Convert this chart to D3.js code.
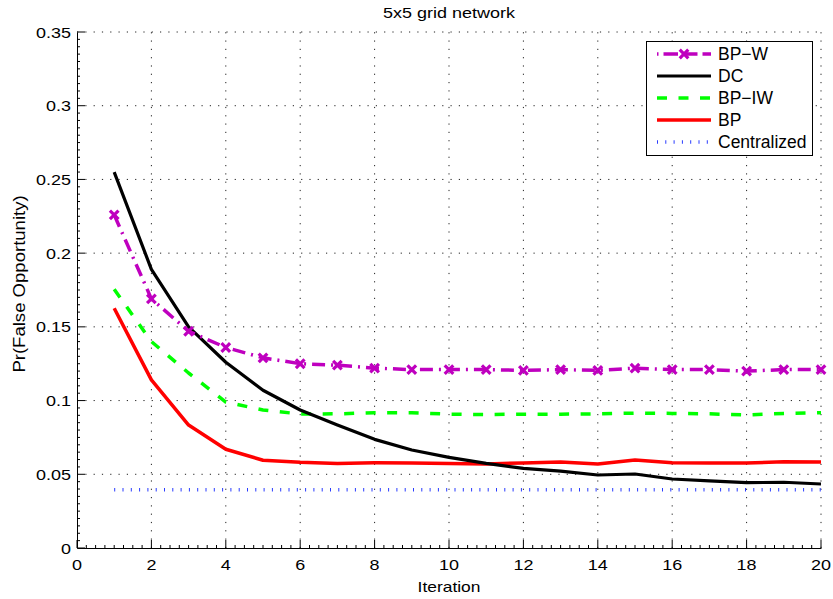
<!DOCTYPE html>
<html>
<head>
<meta charset="utf-8">
<script src="https://cdn.jsdelivr.net/npm/d3@7"></script>
<style>
  html, body { margin: 0; padding: 0; background: #fff; }
  svg { display: block; }
  text { font-family: "Liberation Sans", Arial, Helvetica, sans-serif; fill: #000; }
</style>
</head>
<body>
<svg id="chart" width="833" height="599"></svg>
<script>
// Probability of false opportunity per iteration, 5x5 grid network
const iterations = [1, 2, 3, 4, 5, 6, 7, 8, 9, 10, 11, 12, 13, 14, 15, 16, 17, 18, 19, 20];
const bpW  = [0.226, 0.169, 0.147, 0.136, 0.129, 0.125, 0.124, 0.122, 0.121, 0.121,
              0.121, 0.1205, 0.121, 0.1205, 0.122, 0.121, 0.121, 0.120, 0.121, 0.121];
const dc   = [0.255, 0.189, 0.150, 0.126, 0.107, 0.0936, 0.0834, 0.0737, 0.0665, 0.0615,
              0.0574, 0.054, 0.0522, 0.0495, 0.0502, 0.0468, 0.0455, 0.0443, 0.0446, 0.0434];
const bpIW = [0.1755, 0.140, 0.1187, 0.099, 0.0936, 0.0909, 0.091, 0.0918, 0.0918, 0.0908,
              0.0905, 0.0908, 0.0908, 0.091, 0.0915, 0.0913, 0.091, 0.0902, 0.0913, 0.0918];
const bp   = [0.1626, 0.114, 0.0834, 0.067, 0.0595, 0.0581, 0.0574, 0.0578, 0.0577, 0.0574,
              0.057, 0.0577, 0.0583, 0.057, 0.0597, 0.0579, 0.0577, 0.0577, 0.0585, 0.0583];
const centralized = [0.0395, 0.0395, 0.0395, 0.0395, 0.0395, 0.0395, 0.0395, 0.0395, 0.0395, 0.0395,
                     0.0395, 0.0395, 0.0395, 0.0395, 0.0395, 0.0395, 0.0395, 0.0395, 0.0395, 0.0395];

const xTicks = [0, 2, 4, 6, 8, 10, 12, 14, 16, 18, 20];
const yTicks = [0, 0.05, 0.1, 0.15, 0.2, 0.25, 0.3, 0.35];
const yTickLabels = ["0", "0.05", "0.1", "0.15", "0.2", "0.25", "0.3", "0.35"];

const titleText = "5x5 grid network";
const xLabel = "Iteration";
const yLabel = "Pr(False Opportunity)";

const seriesNames = ["BP\u2212W", "DC", "BP\u2212IW", "BP", "Centralized"];
const seriesValues = [bpW, dc, bpIW, bp, centralized];

const styles = [
  { color: "#bf00bf", width: 3.5, dash: "13,6,2,6", marker: true },
  { color: "#000000", width: 3.2, dash: null, marker: false },
  { color: "#00ff00", width: 3.5, dash: "10,11.5", marker: false },
  { color: "#ff0000", width: 3.5, dash: null, marker: false },
  { color: "#2a3cff", width: 3.5, dash: "1,7.3", marker: false }
];

const svg = d3.select("#chart");
const margin = { left: 77, right: 12, top: 32, bottom: 51 };
const W = 833, H = 599;
const x = d3.scaleLinear().domain([0, 20]).range([margin.left, W - margin.right]);
const y = d3.scaleLinear().domain([0, 0.35]).range([H - margin.bottom, margin.top]);

const sx = 1.16; // horizontal stretch for axis fonts
function label(g, px, py, txt, size, anchor, rot) {
  const t = g.append("text")
    .attr("transform", `translate(${px},${py})` + (rot ? ` rotate(${rot})` : "") + ` scale(${sx},1)`)
    .attr("font-size", size)
    .attr("text-anchor", anchor)
    .text(txt);
  return t;
}

// grid
const grid = svg.append("g").attr("stroke", "#222").attr("stroke-width", 1)
  .attr("stroke-dasharray", "1.2,7.1").attr("fill", "none");
xTicks.filter(v => v > 0).forEach(v => {
  grid.append("line").attr("x1", x(v)).attr("x2", x(v)).attr("y1", y(0)).attr("y2", y(0.35));
});
yTicks.filter(v => v > 0).forEach(v => {
  grid.append("line").attr("x1", x(0)).attr("x2", x(20)).attr("y1", y(v)).attr("y2", y(v));
});

// axes
const xAxis = d3.axisBottom(x).tickValues(xTicks).tickSize(0).tickPadding(0).tickFormat("");
const yAxis = d3.axisLeft(y).tickValues(yTicks).tickSize(0).tickPadding(0).tickFormat("");
svg.append("g").attr("transform", `translate(0,${y(0)})`).call(xAxis)
  .call(g => g.select(".domain").attr("stroke", "#000").attr("stroke-width", 1));
svg.append("g").attr("transform", `translate(${x(0)},0)`).call(yAxis)
  .call(g => g.select(".domain").attr("stroke", "#000").attr("stroke-width", 1));

// inward ticks (major + minor)
const tk = svg.append("g").attr("stroke", "#000").attr("stroke-width", 1);
d3.range(0, 20.001, 0.25).forEach(v => {
  const major = Math.abs(v / 2 - Math.round(v / 2)) < 1e-6;
  tk.append("line").attr("x1", x(v)).attr("x2", x(v))
    .attr("y1", y(0)).attr("y2", y(0) - (major ? 8 : 3));
});
d3.range(0, 0.35001, 0.005).forEach(v => {
  const major = Math.abs(v / 0.05 - Math.round(v / 0.05)) < 1e-6;
  tk.append("line").attr("x1", x(0)).attr("x2", x(0) + (major ? 8 : 3))
    .attr("y1", y(v)).attr("y2", y(v));
});

// tick labels
const tl = svg.append("g");
xTicks.forEach(v => label(tl, x(v), 570, String(v), 15.5, "middle"));
yTicks.forEach((v, i) => label(tl, 71, y(v) + 5.5, yTickLabels[i], 15.5, "end"));

// title and axis titles
label(svg, (x(0) + x(20)) / 2, 18, titleText, 15.5, "middle");
label(svg, (x(0) + x(20)) / 2, 592, xLabel, 15, "middle");
label(svg, 25, 284, yLabel, 16, "middle", -90);

// series
const line = d3.line().x((d, i) => x(iterations[i])).y(d => y(d));
const drawOrder = [4, 3, 2, 1, 0];
drawOrder.forEach(k => {
  const st = styles[k];
  svg.append("path").datum(seriesValues[k])
    .attr("d", line)
    .attr("fill", "none")
    .attr("stroke", st.color)
    .attr("stroke-width", st.width)
    .attr("stroke-linejoin", "round")
    .attr("stroke-dasharray", st.dash);
});

function xMarker(g, cx, cy, color) {
  const s = 4.3;
  g.append("path")
    .attr("d", `M${cx - s},${cy - s}L${cx + s},${cy + s}M${cx - s},${cy + s}L${cx + s},${cy - s}`)
    .attr("stroke", color).attr("stroke-width", 3.2).attr("fill", "none");
}
const mk = svg.append("g");
bpW.forEach((v, i) => xMarker(mk, x(iterations[i]), y(v), styles[0].color));

// legend
const lg = svg.append("g");
lg.append("rect").attr("x", 646.5).attr("y", 41.5).attr("width", 166).attr("height", 114)
  .attr("fill", "#fff").attr("stroke", "#000").attr("stroke-width", 1);
const rowY = [54, 76, 98, 120, 142];
seriesNames.forEach((name, k) => {
  const st = styles[k];
  lg.append("line").attr("x1", 657).attr("x2", 711).attr("y1", rowY[k]).attr("y2", rowY[k])
    .attr("stroke", st.color).attr("stroke-width", st.width)
    .attr("stroke-dasharray", k === 0 ? "1.5,5,13,0" : st.dash);
  if (st.marker) xMarker(lg, 684, rowY[k], st.color);
  lg.append("text").attr("x", 718).attr("y", rowY[k] + 6.3)
    .attr("font-size", 17.5).text(name);
});
</script>
</body>
</html>
